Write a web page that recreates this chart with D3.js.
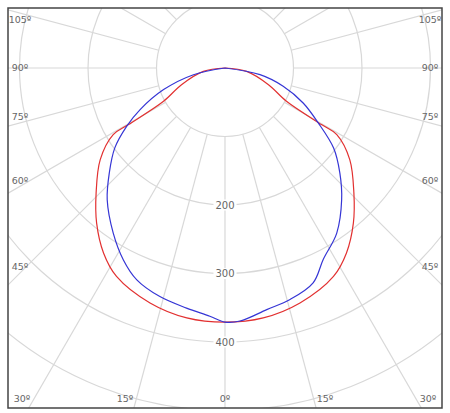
<!DOCTYPE html><html><head><meta charset="utf-8"><script src="https://cdn.jsdelivr.net/npm/d3@7"></script>
<style>body{margin:0;background:#fff}</style></head><body><svg id="c" width="450" height="413"></svg><script>
// angles measured from downward (0°) direction, degrees; values in cd
const redAngles  = [0, 8.7, 17.7, 27.5, 33.3, 39.6, 45.9, 53.7, 59.2, 59.6, 61.6, 69, 81, 90];
const redValues  = [371, 369, 360, 343, 323, 294, 262, 226, 190, 164, 102, 68, 32, 0];
const blueLeftAngles  = [0, 3.5, 9.1, 15.9, 22.6, 27.9, 34.1, 41.8, 47.8, 54, 59.3, 63.9, 70.6, 78, 90];
const blueLeftValues  = [371, 363, 355, 347, 335, 317, 291, 258, 228, 199, 167, 138, 95, 47, 0];
const blueRightAngles = [0, 3.4, 9.8, 15.7, 22.3, 27.2, 34.1, 41.5, 47.6, 53.6, 59.5, 65.9, 72.6, 79.2, 90];
const blueRightValues = [371, 370, 358, 351, 339, 314, 291, 257, 227, 197, 158, 125, 89, 52, 0];
const ringValues = [100, 200, 300, 400, 500, 600, 700];
const ringLabels = [200, 300, 400];
const spokeAngles = d3.range(0, 360, 15);
const bottomLabels = [30, 15, 0, 15, 30];
const sideLabels = [45, 60, 75, 90, 105];

const svg = d3.select("#c");
const cx = 225, cy = 68;
const fx0 = 8, fy0 = 8, fx1 = 442, fy1 = 408;
const r = d3.scaleLinear().domain([0, 100]).range([0, 68.5]);
svg.append("clipPath").attr("id","clip").append("rect").attr("x",fx0).attr("y",fy0).attr("width",fx1-fx0).attr("height",fy1-fy0);
const g = svg.append("g").attr("clip-path","url(#clip)");
const grid = g.append("g").attr("transform",`translate(${cx},${cy})`);
grid.selectAll("circle").data(ringValues).join("circle").attr("r",d=>r(d)).attr("fill","none").attr("stroke","#d8d8d8").attr("stroke-width",1.2);
grid.selectAll("line").data(spokeAngles).join("line")
  .attr("x1",d=>r(100)*Math.sin(d*Math.PI/180)).attr("y1",d=>r(100)*Math.cos(d*Math.PI/180))
  .attr("x2",d=>r(900)*Math.sin(d*Math.PI/180)).attr("y2",d=>r(900)*Math.cos(d*Math.PI/180))
  .attr("stroke","#d8d8d8").attr("stroke-width",1.2);
ringLabels.forEach(v=>{
  const t = grid.append("text").attr("x",0).attr("y",r(v)).attr("dy","0.35em").attr("text-anchor","middle")
    .attr("font-family","DejaVu Sans").attr("font-size",10).attr("fill","#666").text(v);
  const bb = t.node().getBBox();
  grid.insert("rect","text").attr("x",bb.x-2).attr("y",bb.y).attr("width",bb.width+4).attr("height",bb.height).attr("fill","#fff");
});
function pts(angles, values, side){ return angles.map((a,i)=>[Math.PI + side*a*Math.PI/180, values[i]]); }
const red = pts(redAngles, redValues, 1).reverse().concat(pts(redAngles, redValues, -1).slice(1));
const blue = pts(blueLeftAngles, blueLeftValues, 1).reverse().concat(pts(blueRightAngles, blueRightValues, -1).slice(1));
const line = d3.lineRadial().angle(d=>d[0]).radius(d=>r(d[1])).curve(d3.curveCatmullRom.alpha(0.5));
grid.append("path").attr("d",line(red)).attr("fill","none").attr("stroke","#e23030").attr("stroke-width",1.2);
grid.append("path").attr("d",line(blue)).attr("fill","none").attr("stroke","#3535d5").attr("stroke-width",1.2);
const lab = svg.append("g").attr("font-family","DejaVu Sans").attr("font-size",9.5).attr("fill","#666");
bottomLabels.forEach((a,i)=>{
  const s = i<2?-1:1;
  const off = a===0?0:(a===15?100:203);
  lab.append("text").attr("x",cx + s*off).attr("y",402).attr("text-anchor","middle").text(a+"º");
});
sideLabels.forEach(a=>{
  let y = cy + 205*Math.cos(a*Math.PI/180)/Math.sin(a*Math.PI/180);
  if(a<90) y -= 6; if(a>90) y = 20;
  [20,430].forEach(x=>lab.append("text").attr("x",x).attr("y",y).attr("dy","0.35em").attr("text-anchor","middle").text(a+"º"));
});
svg.append("rect").attr("x",fx0).attr("y",fy0).attr("width",fx1-fx0).attr("height",fy1-fy0).attr("fill","none").attr("stroke","#444").attr("stroke-width",1.5);
</script></body></html>
